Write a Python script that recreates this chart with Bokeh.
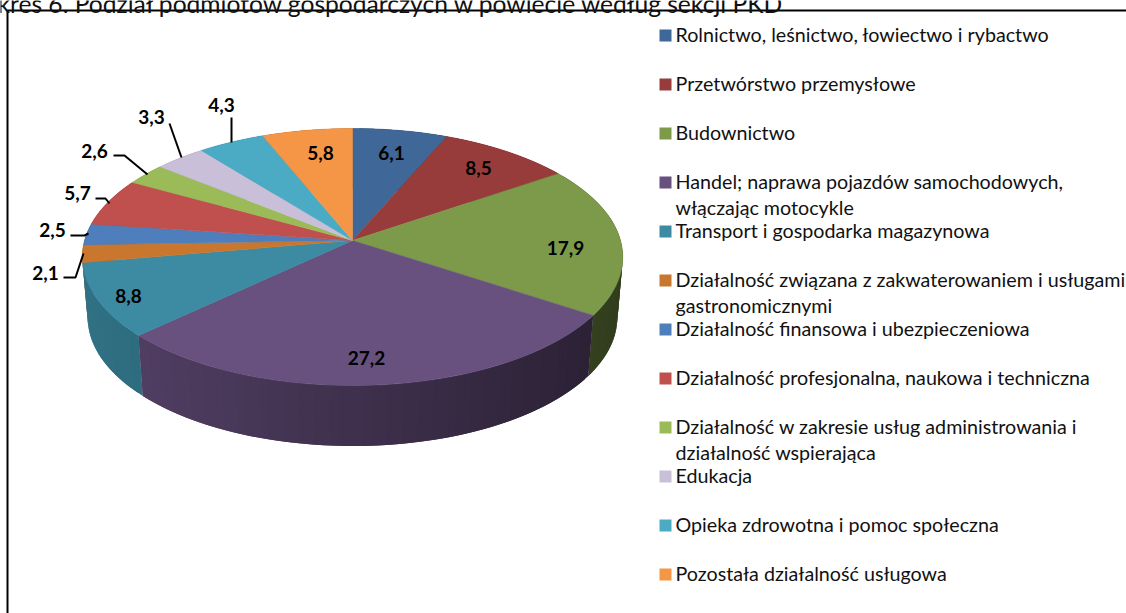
import numpy as np
from bokeh.plotting import figure
from bokeh.models import Range1d
from bokeh.core.properties import value
from bokeh.embed import file_html
from bokeh.resources import INLINE

title_text = "kres 6. Podział podmiotów gospodarczych w powiecie według sekcji PKD"
categories = [
    "Rolnictwo, leśnictwo, łowiectwo i rybactwo",
    "Przetwórstwo przemysłowe",
    "Budownictwo",
    "Handel; naprawa pojazdów samochodowych,\nwłączając motocykle",
    "Transport i gospodarka magazynowa",
    "Działalność związana z zakwaterowaniem i usługami\ngastronomicznymi",
    "Działalność finansowa i ubezpieczeniowa",
    "Działalność profesjonalna, naukowa i techniczna",
    "Działalność w zakresie usług administrowania i\ndziałalność wspierająca",
    "Edukacja",
    "Opieka zdrowotna i pomoc społeczna",
    "Pozostała działalność usługowa",
]
values = [6.1, 8.5, 17.9, 27.2, 8.8, 2.1, 2.5, 5.7, 2.6, 3.3, 4.3, 5.8]
colors = ["#3F6797", "#983C3B", "#7C9A4A", "#68507F", "#3C8BA3", "#C9772F",
          "#4E7EBB", "#C0504D", "#9BBB59", "#C9BFD9", "#4BABC4", "#F59647"]

# layout (pixels of the page)
W, H = 1126, 613
X0, Y0 = 352, 240
RX, RY, K = 268, 126.4, 0.1284
DEPTH, SHRINK = 60.5, 0.98
FONT = "Lato"

label_pos = [(391, 152), (478, 167), (565, 247), (366, 357), (128, 295), (45, 272),
             (52, 229), (77, 192), (94, 150), (151, 116), (221, 104), (320, 152)]
leaders = [None, None, None, None, None,
           [(63, 277), (75, 277), (83, 253)],
           [(70, 235), (84, 235), (88, 233)],
           [(95, 198), (105, 198), (109, 203)],
           [(113, 155), (124, 155), (147, 174)],
           [(169, 123), (181, 157)],
           [(231, 117), (231, 142)],
           None]


def project(theta, lower=False):
    X, Y = np.sin(theta), -np.cos(theta)
    s = 1 / (1 - K * Y)
    x, y = RX * X * s, RY * Y * s
    if lower:
        return X0 + x * SHRINK, Y0 + y + DEPTH
    return X0 + x, Y0 + y


def shade(hex_color, x):
    t = (x - 85) / (620 - 85)
    f = 0.82 - 0.42 * min(max(t, 0), 1)
    rgb = [int(hex_color[i:i + 2], 16) for i in (1, 3, 5)]
    return "#%02x%02x%02x" % tuple(int(c * f) for c in rgb)


p = figure(width=W, height=H, x_range=Range1d(0, W), y_range=Range1d(H, 0),
           output_backend="svg", toolbar_location=None, min_border=0,
           outline_line_color=None, background_fill_color="white")
p.xaxis.visible = False
p.yaxis.visible = False
p.grid.visible = False

# frame
p.line([7, 7, W], [H, 10, 10], line_color="black", line_width=2)

edges = np.cumsum([0] + values) / sum(values) * 2 * np.pi

# sides: slivers overlap so that no seams show; the ones nearest the viewer are painted last
slivers = []
for i in range(len(values)):
    n = max(2, int(np.degrees(edges[i + 1] - edges[i]) / 1.5) + 1)
    th = np.linspace(edges[i], edges[i + 1], n)
    for k, (a, b) in enumerate(zip(th[:-1], th[1:])):
        bb = b if k == n - 2 else th[k + 2]
        xa, ya = project(a)
        xb, yb = project(bb)
        xc, yc = project(bb, True)
        xd, yd = project(a, True)
        slivers.append((ya + yb, [xa, xb, xc, xd], [ya, yb, yc, yd],
                        shade(colors[i], (xa + xb) / 2)))
slivers.sort(key=lambda q: q[0])
sc = [q[3] for q in slivers]
p.patches([q[1] for q in slivers], [q[2] for q in slivers], fill_color=sc, line_color=None)

# top
tx, ty = [], []
for i in range(len(values)):
    th = np.linspace(edges[i], edges[i + 1], 80)
    x, y = project(th)
    tx.append([X0] + list(x))
    ty.append([Y0] + list(y))
p.patches(tx, ty, fill_color=colors, line_color=colors, line_width=0.5)

# leader lines
for seg in leaders:
    if seg:
        p.line([q[0] for q in seg], [q[1] for q in seg], line_color="black", line_width=2)

# data labels
p.text([q[0] for q in label_pos], [q[1] for q in label_pos],
       text=[str(v).replace(".", ",") for v in values],
       text_font=value(FONT), text_font_style="bold", text_font_size="19px",
       text_align="center", text_baseline="middle", text_color="black")

# legend
LEG_X, LEG_Y, LEG_STEP, LINE_STEP = 659, 35, 49, 25.5
p.rect([LEG_X + 6] * len(colors), [LEG_Y + LEG_STEP * i for i in range(len(colors))],
       width=12, height=12, fill_color=colors, line_color=None)
lx, ly, lt = [], [], []
for i, c in enumerate(categories):
    for j, line in enumerate(c.split("\n")):
        lx.append(LEG_X + 16)
        ly.append(LEG_Y + LEG_STEP * i + j * LINE_STEP - 1)
        lt.append(line)
p.text(lx, ly, text=lt, text_font=value(FONT), text_font_size="19.7px",
       text_align="left", text_baseline="middle", text_color="#111111")

# title
p.text([-3], [3], text=[title_text], text_font=value(FONT), text_font_size="24.6px",
       text_align="left", text_baseline="alphabetic", text_color="#111111")

open("out.html", "w").write(file_html(p, INLINE))
